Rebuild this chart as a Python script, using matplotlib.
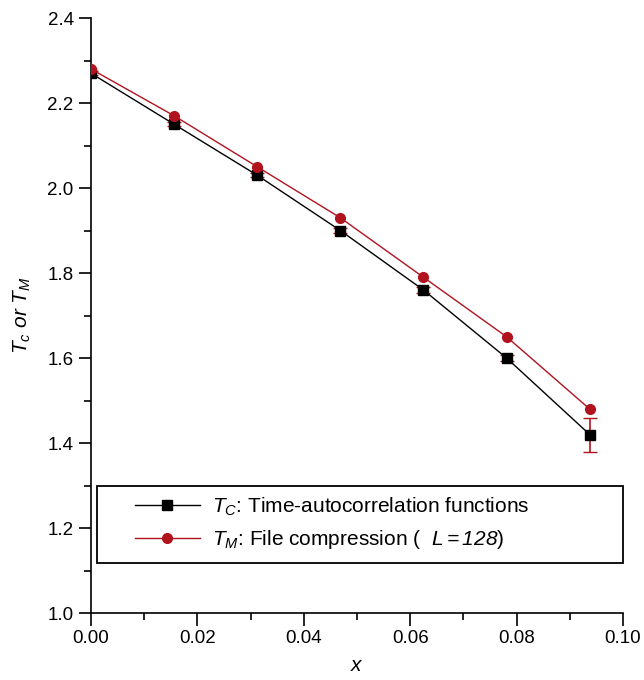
import matplotlib
matplotlib.use("Agg")
import matplotlib.pyplot as plt
from matplotlib.ticker import MultipleLocator
from matplotlib.patches import Rectangle

plt.rcParams['font.family'] = ['Liberation Sans', 'DejaVu Sans']
plt.rcParams['mathtext.fontset'] = 'custom'
plt.rcParams['mathtext.rm'] = 'Liberation Sans'
plt.rcParams['mathtext.it'] = 'Liberation Sans:italic'
plt.rcParams['mathtext.sf'] = 'Liberation Sans:italic'

# data
x = [0.0, 0.015625, 0.03125, 0.046875, 0.0625, 0.078125, 0.09375]
tc = [2.27, 2.15, 2.03, 1.90, 1.76, 1.60, 1.42]
tc_err = [0.005, 0.005, 0.005, 0.005, 0.008, 0.008, 0.04]
tm = [2.28, 2.17, 2.05, 1.93, 1.79, 1.65, 1.48]

red = "#b0131e"

fig = plt.figure(figsize=(6.44, 6.8), dpi=100)
ax = fig.add_axes([0.1413, 0.0985, 0.826, 0.875])

ax.errorbar(x, tc, yerr=tc_err, fmt="none", ecolor=red, elinewidth=1.2, capsize=5, zorder=2)
ax.plot(x, tc, "-s", color="black", lw=1.0, ms=6.5, label=r"$T_C$: Time-autocorrelation functions", zorder=3)
ax.plot(x, tm, "-o", color=red, lw=1.0, ms=7, label=r"$T_M$: File compression (  $\mathsf{L{=}128}$)", zorder=4)

ax.set_xlim(0, 0.10)
ax.set_ylim(1.0, 2.4)
ax.xaxis.set_major_locator(MultipleLocator(0.02))
ax.xaxis.set_minor_locator(MultipleLocator(0.01))
ax.yaxis.set_major_locator(MultipleLocator(0.2))
ax.yaxis.set_minor_locator(MultipleLocator(0.1))
ax.set_xticklabels(["%.2f" % v for v in ax.get_xticks()])
ax.set_yticklabels(["%.1f" % v for v in ax.get_yticks()])

for s in ["top", "right"]:
    ax.spines[s].set_visible(False)
for s in ["left", "bottom"]:
    ax.spines[s].set_linewidth(1.2)
ax.tick_params(which="major", direction="out", length=9, width=1.2, labelsize=13.5)
ax.tick_params(which="minor", direction="out", length=5, width=1.2)

ax.set_xlabel(r"$x$", fontsize=15, labelpad=6)
ax.set_ylabel(r"$T_c\ or\ T_M$", fontsize=15, labelpad=10)

# legend box reaches the right end of the axis, drawn by hand
box = Rectangle((0.0113, 0.084), 0.9887, 0.1294, transform=ax.transAxes,
                facecolor="white", edgecolor="black", lw=1.3, clip_on=False, zorder=5)
ax.add_patch(box)
leg = ax.legend(loc="center left", bbox_to_anchor=(0.0827, 0.151), fontsize=15,
                frameon=False, borderpad=0, handlelength=3.1, handletextpad=0.6,
                labelspacing=0.5, borderaxespad=0)
leg.set_zorder(6)

fig.savefig("out.png", dpi=100)
